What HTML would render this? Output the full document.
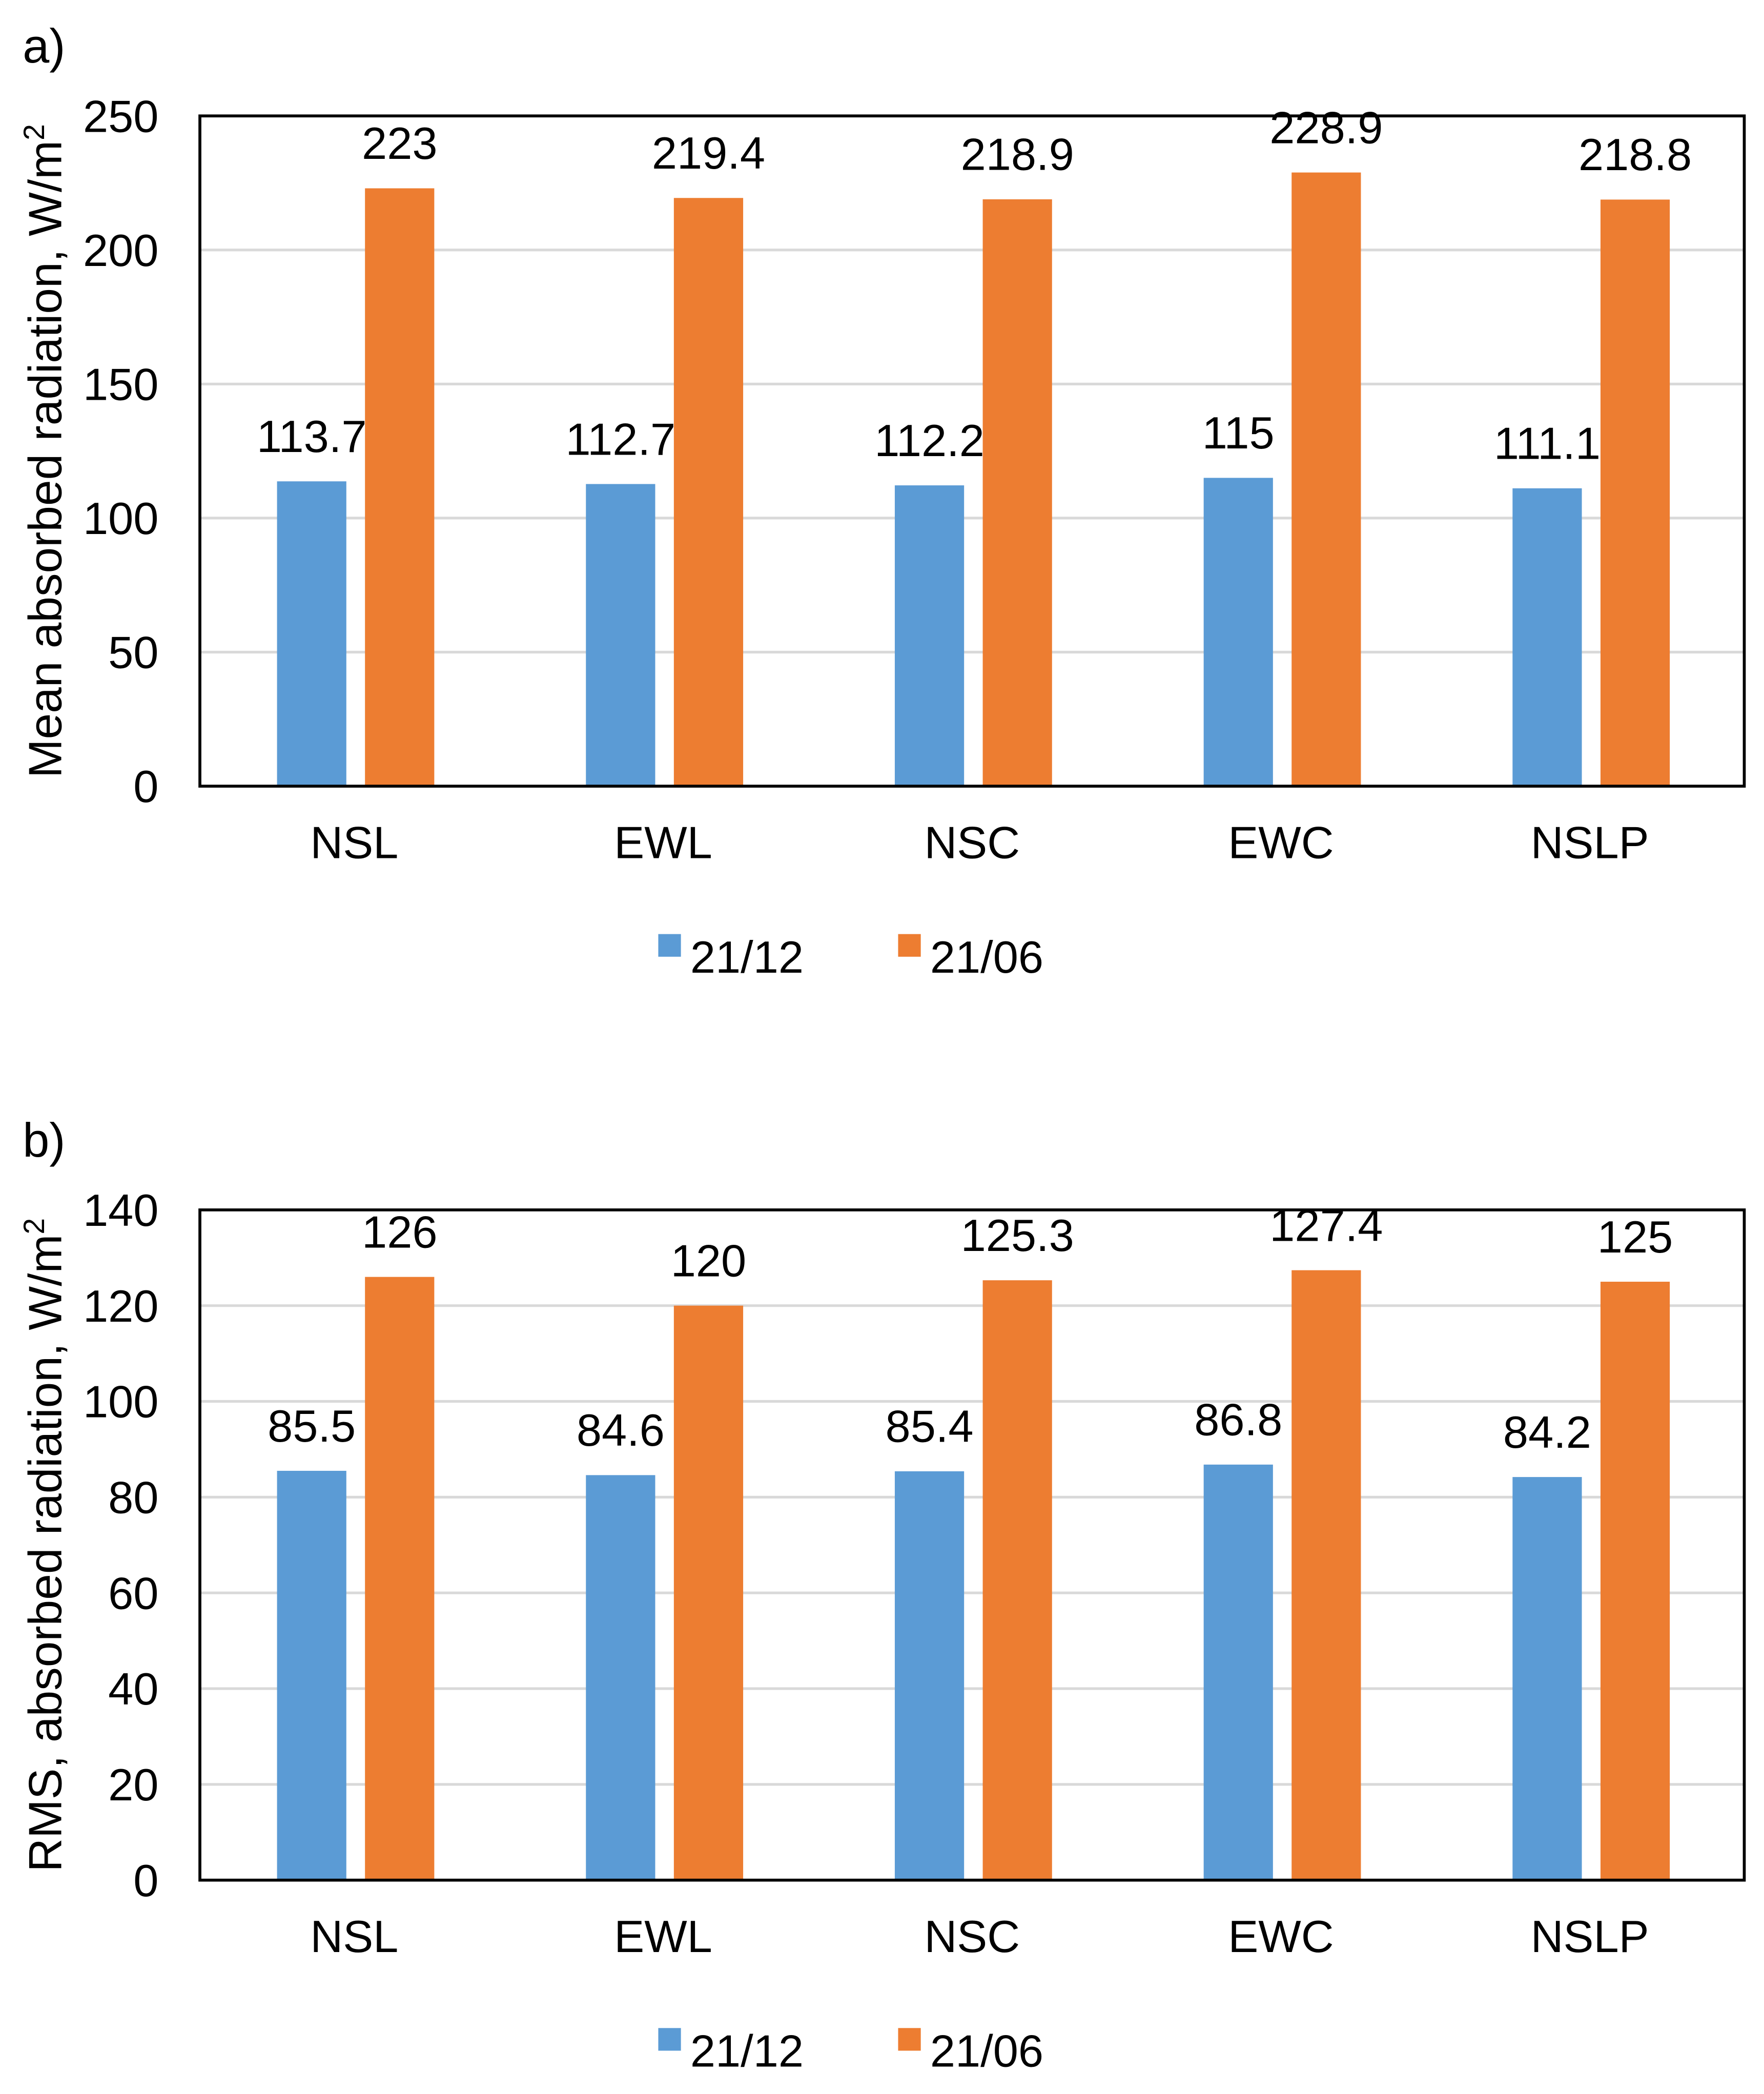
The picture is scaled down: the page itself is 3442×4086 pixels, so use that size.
<!DOCTYPE html>
<html><head><meta charset="utf-8"><style>
html,body{margin:0;padding:0;background:#fff;}
svg{display:block;font-family:"Liberation Sans",Arial,sans-serif;}
</style></head><body>
<svg id="root" xmlns="http://www.w3.org/2000/svg" width="3442" height="4086" viewBox="0 0 1323.8 1571.5"></svg>
<script>
const categories = ["NSL","EWL","NSC","EWC","NSLP"];
const seriesNames = ["21/12","21/06"];
const meanDec = [113.7,112.7,112.2,115,111.1];
const meanJun = [223,219.4,218.9,228.9,218.8];
const meanDecLabels = ["113.7","112.7","112.2","115","111.1"];
const meanJunLabels = ["223","219.4","218.9","228.9","218.8"];
const meanTicks = [0,50,100,150,200,250];
const rmsDec = [85.5,84.6,85.4,86.8,84.2];
const rmsJun = [126,120,125.3,127.4,125];
const rmsDecLabels = ["85.5","84.6","85.4","86.8","84.2"];
const rmsJunLabels = ["126","120","125.3","127.4","125"];
const rmsTicks = [0,20,40,60,80,100,120,140];

const NS="http://www.w3.org/2000/svg";
const root=document.getElementById('root');
const colors=["#5b9bd5","#ed7d31"];
const FS=34;
function mk(tag,attrs,parent,txt){const e=document.createElementNS(NS,tag);for(const k in attrs)e.setAttribute(k,attrs[k]);if(txt!==undefined)e.textContent=txt;(parent||root).appendChild(e);return e;}

function panel(cfg){
  const g=mk('g',{});
  
  
  const L=150,R=1309,T=cfg.top,B=cfg.top+503;
  const maxV=cfg.ticks[cfg.ticks.length-1];
  const y=v=>B-(v/maxV)*(B-T);
  const step=(R-L)/categories.length;
  const cx=i=>L+step*(i+0.5);
  const pl=mk('text',{x:17,y:T-40,'font-size':36},g,cfg.letter);
  
  cfg.ticks.forEach(t=>{
    if(t>0&&t<maxV){const gl=mk('line',{x1:L,x2:R,y1:y(t),y2:y(t),stroke:'#d9d9d9','stroke-width':2},g);
      }
    const tl=mk('text',{x:119,y:y(t)+12,'font-size':FS,'text-anchor':'end'},g,String(t));
    
  });
  const series=[cfg.dec,cfg.jun],labels=[cfg.decL,cfg.junL];
  categories.forEach((c,i)=>{
    [0,1].forEach(s=>{
      const x=cx(i)+(s===0?-58:8);
      const b=mk('rect',{x:x,y:y(series[s][i]),width:52,height:B-y(series[s][i]),fill:colors[s]},g);
      
      
      const vl=mk('text',{x:x+26,y:y(series[s][i])-22,'font-size':FS,'text-anchor':'middle'},g,labels[s][i]);
      
    });
    const cl=mk('text',{x:cx(i),y:B+54,'font-size':FS,'text-anchor':'middle'},g,c);
    
  });
  const box=mk('rect',{x:L,y:T,width:R-L,height:B-T,fill:'none',stroke:'#000','stroke-width':2.2},g);
  
  const ty=(T+B)/2;
  const at=mk('text',{x:0,y:0,'font-size':35,'text-anchor':'middle',transform:`translate(46,${ty}) rotate(-90)`},g);
  
  at.appendChild(document.createTextNode(cfg.title));
  const sup=mk('tspan',{'font-size':22,dy:-13},at,'2');
  const lg=mk('g',{},g);
  
  [[494,518],[674,698]].forEach((p,s)=>{
    const ly=B+128;
    const sw=mk('rect',{x:p[0],y:ly-17,width:17,height:17,fill:colors[s]},lg);
    
    const lt=mk('text',{x:p[1],y:ly+12,'font-size':FS},lg,seriesNames[s]);
    
  });
}
panel({name:'chart-mean',letter:'a)',top:87,ticks:meanTicks,dec:meanDec,jun:meanJun,decL:meanDecLabels,junL:meanJunLabels,title:'Mean absorbed radiation, W/m'});
panel({name:'chart-rms',letter:'b)',top:908,ticks:rmsTicks,dec:rmsDec,jun:rmsJun,decL:rmsDecLabels,junL:rmsJunLabels,title:'RMS, absorbed radiation, W/m'});
</script>
</body></html>
